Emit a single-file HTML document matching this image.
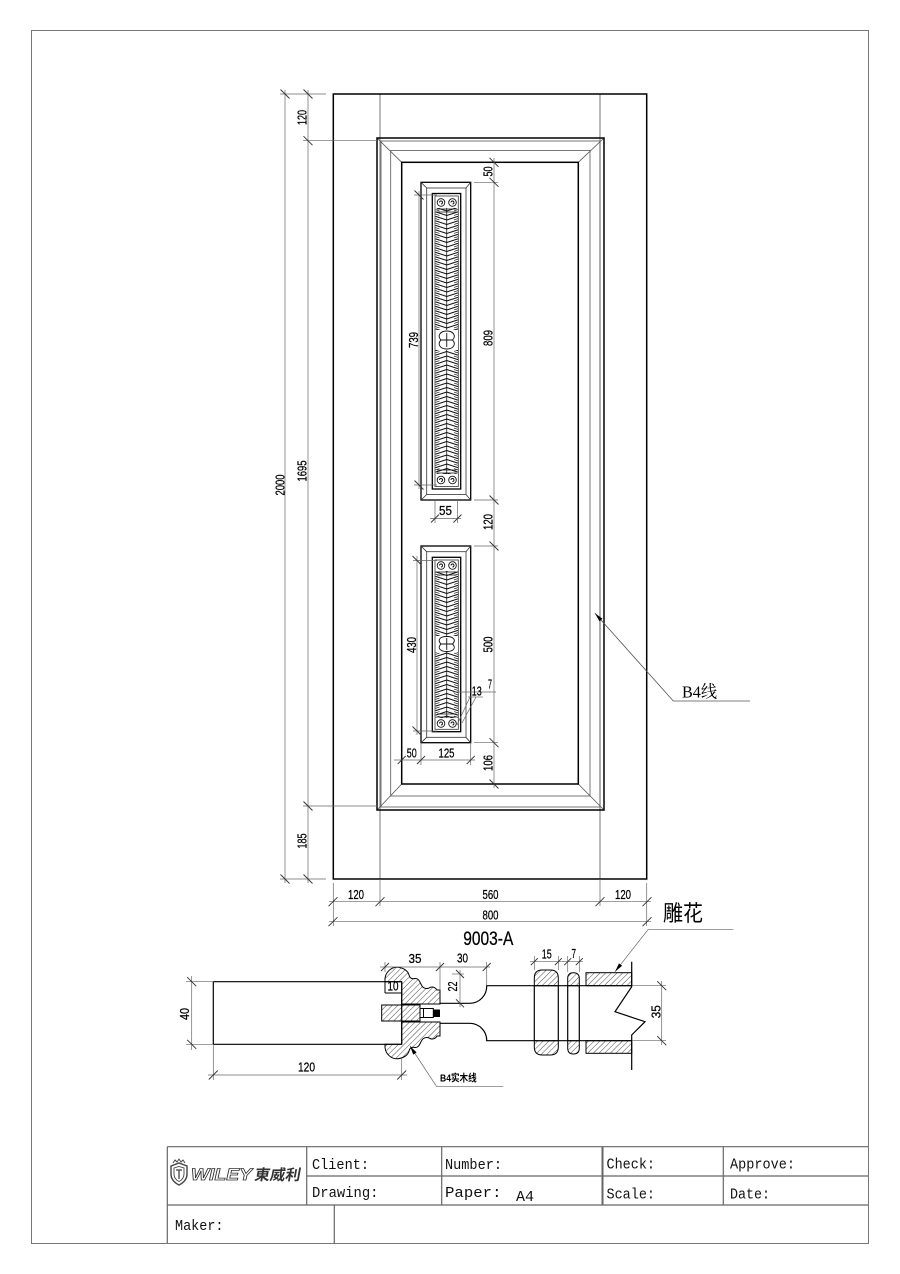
<!DOCTYPE html>
<html><head><meta charset="utf-8"><style>
html,body{margin:0;padding:0;background:#fff}
svg{display:block}
.dm{font-family:"Liberation Sans Narrow","Liberation Sans",sans-serif;font-size:13px;fill:#000;stroke:#000;stroke-width:0.25}
.tb{font-family:"Liberation Mono","Noto Sans CJK SC",monospace;font-size:15px;fill:#111}
</style></head><body>
<svg width="900" height="1274" viewBox="0 0 900 1274" xmlns="http://www.w3.org/2000/svg">
<defs>
<pattern id="pd" patternUnits="userSpaceOnUse" x="435.5" y="0" width="22.5" height="4.5">
<path d="M0,0.3 L11.25,4 L22.5,0.3" fill="none" stroke="#111" stroke-width="1"/>
<path d="M0,2.6 L4,3.9 M22.5,2.6 L18.5,3.9" fill="none" stroke="#222" stroke-width="0.7"/>
</pattern>
<pattern id="pu" patternUnits="userSpaceOnUse" x="435.5" y="0" width="22.5" height="4.5">
<path d="M0,4.2 L11.25,0.5 L22.5,4.2" fill="none" stroke="#111" stroke-width="1"/>
<path d="M0,1.9 L4,0.6 M22.5,1.9 L18.5,0.6" fill="none" stroke="#222" stroke-width="0.7"/>
</pattern>
<pattern id="h" patternUnits="userSpaceOnUse" width="4" height="4" patternTransform="rotate(45)">
<line x1="0" y1="0" x2="0" y2="4" stroke="#000" stroke-width="0.7"/>
</pattern>
</defs>
<rect width="900" height="1274" fill="#fff"/>
<!-- page border -->
<rect x="31.5" y="30.5" width="837" height="1213" fill="none" stroke="#777" stroke-width="1"/>

<!-- door -->
<g fill="none" stroke="#555" stroke-width="0.8">
<line x1="380" y1="94" x2="380" y2="879"/>
<line x1="600" y1="94" x2="600" y2="879"/>
<rect x="381" y="141" width="219" height="666"/>
<rect x="390.7" y="150.5" width="199.3" height="645.5"/>
<line x1="377" y1="138" x2="401.7" y2="162.3"/>
<line x1="604" y1="138" x2="578.3" y2="162.3"/>
<line x1="377" y1="810" x2="401.7" y2="784"/>
<line x1="604" y1="810" x2="578.3" y2="784"/>
</g>
<g fill="none" stroke="#000" stroke-width="1.5">
<rect x="333.3" y="94" width="313.4" height="785"/>
<rect x="377" y="138" width="227" height="672"/>
<rect x="401.7" y="162.3" width="176.6" height="621.7"/>
</g>

<!-- upper glass panel -->
<g fill="none" stroke="#000" stroke-width="1.3">
<rect x="421" y="182.3" width="49.7" height="317.7"/>
<rect x="432.3" y="193.5" width="28.4" height="295.5"/>
</g>
<g fill="none" stroke="#333" stroke-width="0.8">
<rect x="426.7" y="188" width="39.3" height="306.5"/>
<rect x="435" y="196" width="23.3" height="290.5"/>
<line x1="421" y1="182.3" x2="426.7" y2="188"/>
<line x1="470.7" y1="182.3" x2="466" y2="188"/>
<line x1="421" y1="500" x2="426.7" y2="494.5"/>
<line x1="470.7" y1="500" x2="466" y2="494.5"/>
</g>
<rect x="435.5" y="208" width="22.5" height="122" fill="url(#pd)"/>
<rect x="435.5" y="350" width="22.5" height="124" fill="url(#pu)"/>
<line x1="446.75" y1="208" x2="446.75" y2="474" stroke="#000" stroke-width="0.7"/>
<g fill="none" stroke="#111" stroke-width="0.9">
<circle cx="441" cy="202.5" r="3.8"/><circle cx="452.5" cy="202.5" r="3.8"/>
<path d="M439.5,202.5 a1.5,1.5 0 1 1 1.5,1.5 M451,202.5 a1.5,1.5 0 1 1 1.5,1.5"/>
<circle cx="441" cy="480" r="3.8"/><circle cx="452.5" cy="480" r="3.8"/>
<path d="M439.5,480 a1.5,1.5 0 1 1 1.5,1.5 M451,480 a1.5,1.5 0 1 1 1.5,1.5"/>
<path d="M437,209 L456.5,209 M437,212 L456.5,212 M437,470 L456.5,470 M437,473 L456.5,473" stroke-width="0.7"/>
</g>
<rect x="435.5" y="330" width="22.5" height="20" fill="#fff"/>
<g fill="none" stroke="#111" stroke-width="0.9">
<path d="M446.75,331 C440,331 437,336 441,340 C437,344 440,349 446.75,349 C453.5,349 456.5,344 452.5,340 C456.5,336 453.5,331 446.75,331 Z"/>
<path d="M441,340 L452.5,340 M446.75,333 L446.75,347"/>
</g>

<!-- lower glass panel -->
<g fill="none" stroke="#000" stroke-width="1.3">
<rect x="421" y="546" width="49.7" height="196.7"/>
<rect x="432.3" y="557.3" width="28.4" height="174.4"/>
</g>
<g fill="none" stroke="#333" stroke-width="0.8">
<rect x="426.7" y="551.7" width="39.3" height="185.6"/>
<rect x="435" y="560" width="23.3" height="169.3"/>
<line x1="421" y1="546" x2="426.7" y2="551.7"/>
<line x1="470.7" y1="546" x2="466" y2="551.7"/>
<line x1="421" y1="742.7" x2="426.7" y2="737.3"/>
<line x1="470.7" y1="742.7" x2="466" y2="737.3"/>
</g>
<rect x="435.5" y="571" width="22.5" height="65" fill="url(#pd)"/>
<rect x="435.5" y="652" width="22.5" height="66" fill="url(#pu)"/>
<line x1="446.75" y1="571" x2="446.75" y2="718" stroke="#000" stroke-width="0.7"/>
<g fill="none" stroke="#111" stroke-width="0.9">
<circle cx="441" cy="565.5" r="3.8"/><circle cx="452.5" cy="565.5" r="3.8"/>
<path d="M439.5,565.5 a1.5,1.5 0 1 1 1.5,1.5 M451,565.5 a1.5,1.5 0 1 1 1.5,1.5"/>
<circle cx="441" cy="723.5" r="3.8"/><circle cx="452.5" cy="723.5" r="3.8"/>
<path d="M439.5,723.5 a1.5,1.5 0 1 1 1.5,1.5 M451,723.5 a1.5,1.5 0 1 1 1.5,1.5"/>
<path d="M437,572 L456.5,572 M437,575 L456.5,575 M437,714 L456.5,714 M437,717 L456.5,717" stroke-width="0.7"/>
</g>
<rect x="435.5" y="636" width="22.5" height="16" fill="#fff"/>
<g fill="none" stroke="#111" stroke-width="0.9">
<path d="M446.75,636.5 C440,636.5 437,640 441,644 C437,648 440,651.5 446.75,651.5 C453.5,651.5 456.5,648 452.5,644 C456.5,640 453.5,636.5 446.75,636.5 Z"/>
<path d="M441,644 L452.5,644 M446.75,638 L446.75,650"/>
</g>

<!-- dimension lines -->
<g fill="none" stroke="#666" stroke-width="0.7">
<line x1="285" y1="90" x2="285" y2="883"/>
<line x1="308" y1="90" x2="308" y2="883"/>
<line x1="280" y1="94" x2="326" y2="94"/>
<line x1="303" y1="140.7" x2="377" y2="140.7"/>
<line x1="303" y1="806" x2="377" y2="806"/>
<line x1="280" y1="879" x2="326" y2="879"/>
<line x1="329" y1="901.7" x2="651" y2="901.7"/>
<line x1="329" y1="921.7" x2="651" y2="921.7"/>
<line x1="333.3" y1="883" x2="333.3" y2="926"/>
<line x1="380" y1="879" x2="380" y2="906"/>
<line x1="600" y1="879" x2="600" y2="906"/>
<line x1="646.7" y1="883" x2="646.7" y2="926"/>
<line x1="494" y1="158" x2="494" y2="788"/>
<line x1="474" y1="182.3" x2="498" y2="182.3"/>
<line x1="474" y1="500" x2="498" y2="500"/>
<line x1="474" y1="546" x2="498" y2="546"/>
<line x1="474" y1="742.7" x2="498" y2="742.7"/>
<line x1="419" y1="191" x2="419" y2="489"/>
<line x1="414" y1="195" x2="437" y2="195"/>
<line x1="414" y1="485" x2="437" y2="485"/>
<line x1="417" y1="556" x2="417" y2="735"/>
<line x1="413" y1="560.5" x2="437" y2="560.5"/>
<line x1="413" y1="731" x2="437" y2="731"/>
<line x1="430" y1="518.5" x2="461" y2="518.5"/>
<line x1="435" y1="500" x2="435" y2="523"/>
<line x1="457.5" y1="500" x2="457.5" y2="523"/>
<line x1="394" y1="760" x2="475" y2="760"/>
<line x1="421" y1="743" x2="421" y2="765"/>
<line x1="470.7" y1="743" x2="470.7" y2="765"/>
<line x1="453" y1="692" x2="496" y2="692"/>
<line x1="468" y1="697" x2="483" y2="697"/>
<line x1="470" y1="697" x2="457" y2="725"/>
<line x1="476" y1="697" x2="462" y2="723"/>
</g>
<g fill="none" stroke="#333" stroke-width="0.9">
<path d="M280.5,89.5L289.5,98.5 M280.5,874.5L289.5,883.5"/>
<path d="M303.5,89.5L312.5,98.5 M303.5,136.2L312.5,145.2 M303.5,801.5L312.5,810.5 M303.5,874.5L312.5,883.5"/>
<path d="M489.5,157.8L498.5,166.8 M489.5,177.8L498.5,186.8 M489.5,495.5L498.5,504.5 M489.5,541.5L498.5,550.5 M489.5,738.2L498.5,747.2 M489.5,779.5L498.5,788.5"/>
<path d="M414.5,190.5L423.5,199.5 M414.5,480.5L423.5,489.5"/>
<path d="M412.5,556L421.5,565 M412.5,726.5L421.5,735.5"/>
<path d="M328.5,906.2L337.5,897.2 M375.5,906.2L384.5,897.2 M595.5,906.2L604.5,897.2 M642.5,906.2L651.5,897.2"/>
<path d="M328.5,926.2L337.5,917.2 M642.5,926.2L651.5,917.2"/>
<path d="M431,522.5L439,514.5 M453.5,522.5L461.5,514.5"/>
<path d="M397.7,764L405.7,756 M417,764L425,756 M466.7,764L474.7,756"/>
</g>

<!-- dimension text -->
<g class="dm">
<text transform="translate(284.5,485) rotate(-90)" text-anchor="middle" textLength="21" lengthAdjust="spacingAndGlyphs">2000</text>
<text transform="translate(306.5,117.5) rotate(-90)" text-anchor="middle" textLength="15" lengthAdjust="spacingAndGlyphs">120</text>
<text transform="translate(306.5,471) rotate(-90)" text-anchor="middle" textLength="21" lengthAdjust="spacingAndGlyphs">1695</text>
<text transform="translate(306.5,841) rotate(-90)" text-anchor="middle" textLength="15" lengthAdjust="spacingAndGlyphs">185</text>
<text transform="translate(492.5,171.5) rotate(-90)" text-anchor="middle" textLength="10" lengthAdjust="spacingAndGlyphs">50</text>
<text transform="translate(492.5,338) rotate(-90)" text-anchor="middle" textLength="16" lengthAdjust="spacingAndGlyphs">809</text>
<text transform="translate(492.5,522) rotate(-90)" text-anchor="middle" textLength="16" lengthAdjust="spacingAndGlyphs">120</text>
<text transform="translate(492.5,644.5) rotate(-90)" text-anchor="middle" textLength="16" lengthAdjust="spacingAndGlyphs">500</text>
<text transform="translate(492.5,763) rotate(-90)" text-anchor="middle" textLength="16" lengthAdjust="spacingAndGlyphs">106</text>
<text transform="translate(418,340) rotate(-90)" text-anchor="middle" textLength="16" lengthAdjust="spacingAndGlyphs">739</text>
<text transform="translate(416,645) rotate(-90)" text-anchor="middle" textLength="16" lengthAdjust="spacingAndGlyphs">430</text>
<text x="445.5" y="515" text-anchor="middle" textLength="13" lengthAdjust="spacingAndGlyphs">55</text>
<text x="411.7" y="757.5" text-anchor="middle" textLength="10" lengthAdjust="spacingAndGlyphs">50</text>
<text x="446.5" y="757.5" text-anchor="middle" textLength="16" lengthAdjust="spacingAndGlyphs">125</text>
<text x="476.7" y="695.5" text-anchor="middle" textLength="10" lengthAdjust="spacingAndGlyphs">13</text>
<text x="490" y="688.5" text-anchor="middle" textLength="4" lengthAdjust="spacingAndGlyphs">7</text>
<text x="356" y="899" text-anchor="middle" textLength="16" lengthAdjust="spacingAndGlyphs">120</text>
<text x="490.5" y="899" text-anchor="middle" textLength="16" lengthAdjust="spacingAndGlyphs">560</text>
<text x="623" y="899" text-anchor="middle" textLength="16" lengthAdjust="spacingAndGlyphs">120</text>
<text x="490.5" y="919.3" text-anchor="middle" textLength="16" lengthAdjust="spacingAndGlyphs">800</text>
<text x="488.3" y="945" text-anchor="middle" style="font-size:19px" textLength="50" lengthAdjust="spacingAndGlyphs">9003-A</text>
</g>

<!-- B4 leader -->
<g fill="none" stroke="#555" stroke-width="0.8">
<polyline points="595,613.3 673.3,701 750,701"/>
</g>
<polygon points="595,613.3 602.5,618.7 599.5,621.4" fill="#000"/>
<text x="682" y="697.5" style="font-family:'Liberation Serif','Noto Serif CJK SC',serif;font-size:17px" textLength="35" lengthAdjust="spacingAndGlyphs">B4线</text>

<!-- section detail -->
<g fill="none" stroke="#000" stroke-width="1.2">
<line x1="213.3" y1="981.7" x2="401.7" y2="981.7"/>
<line x1="213.3" y1="1044.3" x2="401.7" y2="1044.3"/>
<line x1="213.3" y1="981.7" x2="213.3" y2="1044.3"/>
<line x1="401.7" y1="981.7" x2="401.7" y2="1044.3"/>
</g>
<g stroke="#000" stroke-width="1" fill="url(#h)">
<path d="M385,981.7 C384,972 392,966.5 398,967.3 C404,968 408,971 409,975 C410,979 413,979 415,978.5 C419,978 420,983 422,986 C424,989 428,989 430,987.5 C433,986 436,988 437,990 L440,990 L440,1004 L401.7,1004 L401.7,981.7 Z"/>
<path d="M385,1044.3 C384,1054 392,1059.5 398,1058.7 C404,1058 408,1055 409,1051 C410,1047 413,1047 415,1047.5 C419,1048 420,1043 422,1040 C424,1037 428,1037 430,1038.5 C433,1040 436,1038 437,1036 L440,1036 L440,1022 L401.7,1022 L401.7,1044.3 Z"/>
<rect x="381.7" y="1005" width="38.3" height="16"/>
<path d="M534.3,985.7 L534.3,978 Q534.3,970 542.3,970 L550.3,970 Q558.3,970 558.3,978 L558.3,985.7 Z"/>
<path d="M534.3,1040.7 L534.3,1047 Q534.3,1055 542.3,1055 L550.3,1055 Q558.3,1055 558.3,1047 L558.3,1040.7 Z"/>
<path d="M567.7,985.7 L567.7,978.5 Q567.7,972.7 573.5,972.7 Q579.3,972.7 579.3,978.5 L579.3,985.7 Z"/>
<path d="M567.7,1040.7 L567.7,1048 Q567.7,1054 573.5,1054 Q579.3,1054 579.3,1048 L579.3,1040.7 Z"/>
<rect x="586" y="972.7" width="45.7" height="13"/>
<rect x="586" y="1040.7" width="45.7" height="12.6"/>
</g>
<g fill="none" stroke="#000" stroke-width="1">
<rect x="420" y="1008.5" width="13.3" height="9"/>
<line x1="423.5" y1="1008.5" x2="423.5" y2="1017.5"/>
<line x1="385" y1="981.7" x2="385" y2="993"/>
<line x1="385" y1="993" x2="401.7" y2="993"/>
</g>
<rect x="433.3" y="1009.5" width="6.7" height="7.5" fill="#000"/>
<g fill="none" stroke="#000" stroke-width="1.2">
<path d="M440,1003.3 L470,1003.3 A17,17 0 0 0 486.7,985.7 L631.7,985.7"/>
<path d="M440,1023.3 L470,1023.3 A17,17 0 0 1 486.7,1040.7 L631.7,1040.7"/>
<path d="M631.7,961.7 L631.7,986.7 L615,1011.7 L645,1021.7 L631.7,1035 L631.7,1070"/>
<line x1="534.3" y1="985.7" x2="534.3" y2="1040.7"/>
<line x1="558.3" y1="985.7" x2="558.3" y2="1040.7"/>
<line x1="567.7" y1="985.7" x2="567.7" y2="1040.7"/>
<line x1="579.3" y1="985.7" x2="579.3" y2="1040.7"/>
</g>
<!-- section dims -->
<g fill="none" stroke="#666" stroke-width="0.7">
<line x1="380" y1="967" x2="490" y2="967"/>
<line x1="385" y1="962" x2="385" y2="972"/>
<line x1="440" y1="962" x2="440" y2="990"/>
<line x1="486.7" y1="962" x2="486.7" y2="985.7"/>
<line x1="460" y1="970" x2="460" y2="1007"/>
<line x1="452" y1="974" x2="464" y2="974"/>
<line x1="191.7" y1="976" x2="191.7" y2="1050"/>
<line x1="186" y1="981.7" x2="213" y2="981.7"/>
<line x1="186" y1="1044.3" x2="213" y2="1044.3"/>
<line x1="208" y1="1075" x2="407" y2="1075"/>
<line x1="213.3" y1="1044.3" x2="213.3" y2="1080"/>
<line x1="401.7" y1="1058" x2="401.7" y2="1080"/>
<line x1="530" y1="961.7" x2="583" y2="961.7"/>
<line x1="534.3" y1="956" x2="534.3" y2="970"/>
<line x1="558.3" y1="956" x2="558.3" y2="970"/>
<line x1="567.7" y1="956" x2="567.7" y2="972"/>
<line x1="579.3" y1="956" x2="579.3" y2="972"/>
<line x1="661.7" y1="981" x2="661.7" y2="1045"/>
<line x1="632" y1="985.7" x2="666" y2="985.7"/>
<line x1="632" y1="1040.7" x2="666" y2="1040.7"/>
<polyline points="410,1046 436.7,1086.7 503.3,1086.7"/>
<polyline points="615,971.7 648.3,929.3 733.3,929.3"/>
</g>
<g fill="none" stroke="#333" stroke-width="0.9">
<path d="M381,971L389,963 M436,971L444,963 M482.7,971L490.7,963"/>
<path d="M456,970L464,978 M456,999.3L464,1007.3"/>
<path d="M187.2,977.2L196.2,986.2 M187.2,1039.8L196.2,1048.8"/>
<path d="M208.8,1079.5L217.8,1070.5 M397.2,1079.5L406.2,1070.5"/>
<path d="M530.8,965.2L537.8,958.2 M554.8,965.2L561.8,958.2 M564.2,965.2L571.2,958.2 M575.8,965.2L582.8,958.2"/>
<path d="M657.2,981.2L666.2,990.2 M657.2,1036.2L666.2,1045.2"/>
</g>
<polygon points="410,1046 416.6,1052.4 413.2,1054.6" fill="#000"/>
<polygon points="615,971.7 622.1,965.8 619,963.4" fill="#000"/>
<g class="dm">
<text x="415" y="963" text-anchor="middle" textLength="13" lengthAdjust="spacingAndGlyphs">35</text>
<text x="462.5" y="962.5" text-anchor="middle" textLength="11" lengthAdjust="spacingAndGlyphs">30</text>
<text x="393" y="990.5" text-anchor="middle" textLength="11" lengthAdjust="spacingAndGlyphs">10</text>
<text transform="translate(457,986.5) rotate(-90)" text-anchor="middle" textLength="10" lengthAdjust="spacingAndGlyphs">22</text>
<text transform="translate(189,1014) rotate(-90)" text-anchor="middle" textLength="12" lengthAdjust="spacingAndGlyphs">40</text>
<text x="306.5" y="1071.5" text-anchor="middle" textLength="17" lengthAdjust="spacingAndGlyphs">120</text>
<text x="546.7" y="958.3" text-anchor="middle" textLength="10" lengthAdjust="spacingAndGlyphs">15</text>
<text x="573.8" y="958" text-anchor="middle" textLength="4.5" lengthAdjust="spacingAndGlyphs">7</text>
<text transform="translate(660.5,1011.7) rotate(-90)" text-anchor="middle" textLength="13" lengthAdjust="spacingAndGlyphs">35</text>
</g>
<text x="440" y="1081.5" style="font-family:'Liberation Sans','Noto Sans CJK SC',sans-serif;font-size:10px;font-weight:bold" textLength="36.7" lengthAdjust="spacingAndGlyphs">B4实木线</text>
<text x="663" y="921" style="font-family:'Noto Sans CJK SC','WenQuanYi Zen Hei',sans-serif;font-size:22px" textLength="40" lengthAdjust="spacingAndGlyphs">雕花</text>

<!-- title block -->
<g fill="none" stroke="#666" stroke-width="1.2">
<line x1="167.3" y1="1146.7" x2="868" y2="1146.7"/>
<line x1="306.7" y1="1176" x2="868" y2="1176"/>
<line x1="167.3" y1="1205" x2="868" y2="1205"/>
<line x1="167.3" y1="1146.7" x2="167.3" y2="1243"/>
<line x1="306.7" y1="1146.7" x2="306.7" y2="1205"/>
<line x1="441.7" y1="1146.7" x2="441.7" y2="1205"/>
<line x1="602.5" y1="1146.7" x2="602.5" y2="1205" stroke-width="2"/>
<line x1="723.3" y1="1146.7" x2="723.3" y2="1205"/>
<line x1="334.3" y1="1205" x2="334.3" y2="1243"/>
</g>
<!-- logo -->
<g fill="none" stroke="#444" stroke-width="1.4">
<path d="M171,1166 L179,1163 L187,1166 L187,1174 Q187,1181 179,1185 Q171,1181 171,1174 Z"/>
<path d="M174,1168 L179,1166.5 L184,1168 L184,1174 Q184,1179 179,1181.5 Q174,1179 174,1174 Z" stroke-width="0.9"/>
<path d="M176,1170 L182,1170 M179,1170 L179,1179" stroke-width="1.3"/>
<path d="M173,1163 L175,1160 L177,1162 L179,1159 L181,1162 L183,1160 L185,1163" stroke-width="0.9"/>
</g>
<text x="191" y="1180" style="font-family:'Liberation Sans',sans-serif;font-size:17px;font-style:italic;font-weight:bold;fill:#fff;stroke:#333;stroke-width:0.8" textLength="61" lengthAdjust="spacingAndGlyphs">WILEY</text>
<text x="254" y="1180" transform="skewX(-10) translate(208,0)" style="font-family:'Noto Sans CJK SC','WenQuanYi Zen Hei',sans-serif;font-size:15px;font-weight:bold;fill:#333" textLength="46" lengthAdjust="spacingAndGlyphs">東威利</text>
<g class="tb">
<text x="312" y="1169" textLength="57" lengthAdjust="spacingAndGlyphs">Client:</text>
<text x="445" y="1169" textLength="57" lengthAdjust="spacingAndGlyphs">Number:</text>
<text x="606.5" y="1168.5" textLength="48.5" lengthAdjust="spacingAndGlyphs">Check:</text>
<text x="730" y="1168.5" textLength="65" lengthAdjust="spacingAndGlyphs">Approve:</text>
<text x="312" y="1197" textLength="66.5" lengthAdjust="spacingAndGlyphs">Drawing:</text>
<text x="445" y="1197" textLength="56.5" lengthAdjust="spacingAndGlyphs">Paper:</text>
<text x="516" y="1201" textLength="18" lengthAdjust="spacingAndGlyphs">A4</text>
<text x="606.5" y="1198.5" textLength="48.5" lengthAdjust="spacingAndGlyphs">Scale:</text>
<text x="730" y="1198.5" textLength="40" lengthAdjust="spacingAndGlyphs">Date:</text>
<text x="175" y="1230" textLength="48.5" lengthAdjust="spacingAndGlyphs">Maker:</text>
</g>
</svg>
</body></html>
